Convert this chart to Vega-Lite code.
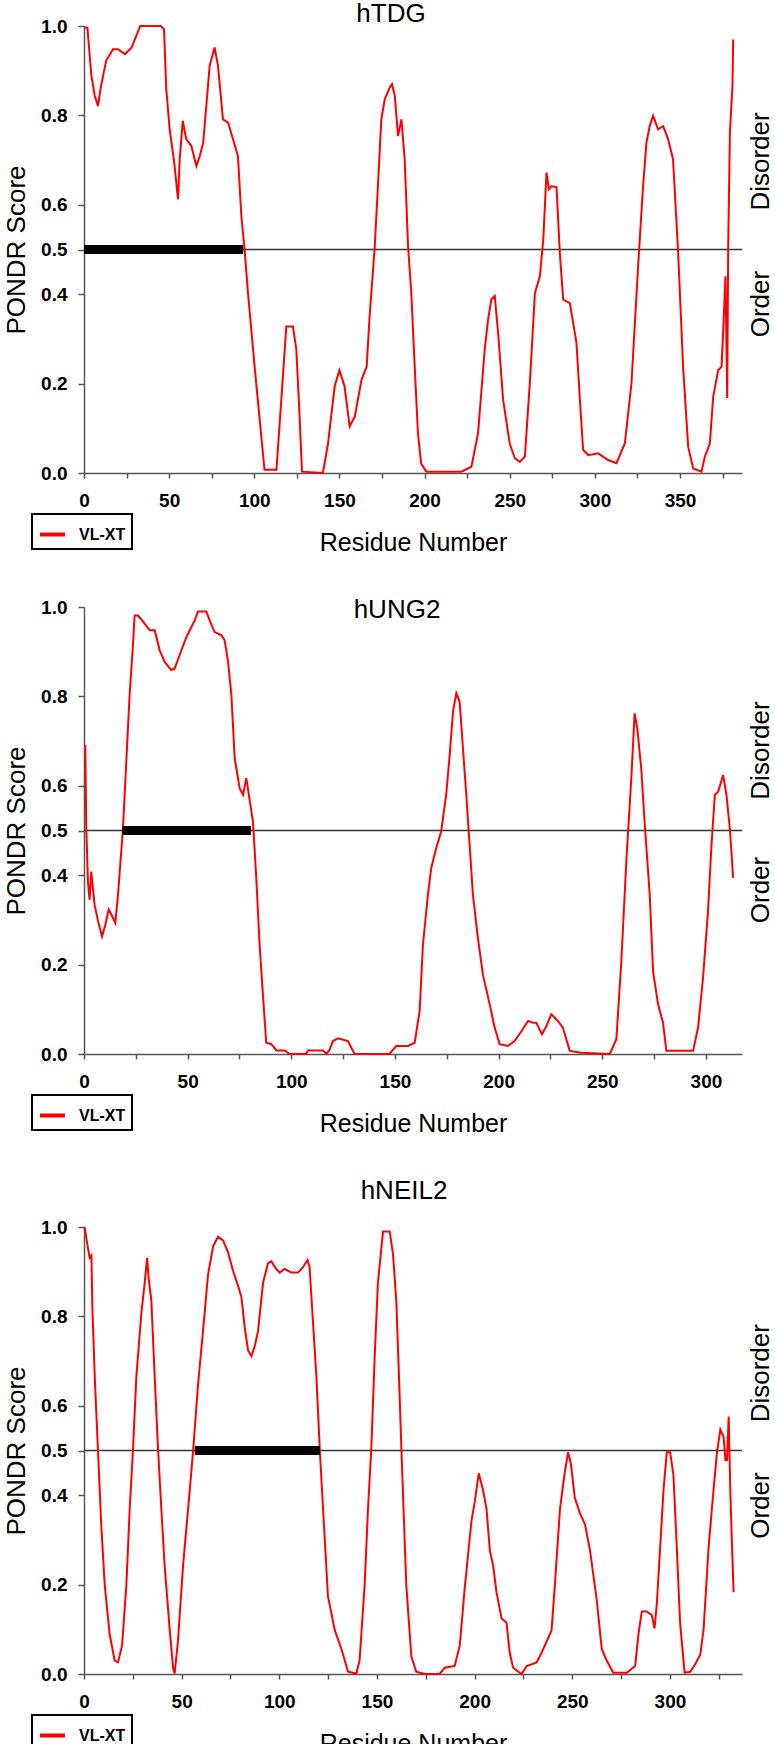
{
"$schema": "https://vega.github.io/schema/vega-lite/v6.json",
"padding": {"left": 3, "top": 1, "right": 0, "bottom": 0},
"background": "white",
"spacing": 42,
"datasets": {
"tdg": [{"r":0,"v":0.997},{"r":2,"v":0.996},{"r":4.3,"v":0.89},{"r":6.3,"v":0.844},{"r":8.2,"v":0.821},{"r":10,"v":0.866},{"r":13,"v":0.922},{"r":17,"v":0.948},{"r":20,"v":0.948},{"r":24,"v":0.937},{"r":28,"v":0.952},{"r":30,"v":0.971},{"r":33,"v":1.0},{"r":45,"v":1.0},{"r":47,"v":0.993},{"r":48.3,"v":0.859},{"r":50.3,"v":0.769},{"r":53,"v":0.694},{"r":55.2,"v":0.612},{"r":56.2,"v":0.702},{"r":58,"v":0.788},{"r":60,"v":0.747},{"r":63,"v":0.732},{"r":66,"v":0.687},{"r":68,"v":0.709},{"r":70,"v":0.739},{"r":73.8,"v":0.911},{"r":76.7,"v":0.952},{"r":78.7,"v":0.911},{"r":81.6,"v":0.791},{"r":84.6,"v":0.784},{"r":87.5,"v":0.747},{"r":90.4,"v":0.709},{"r":92.4,"v":0.575},{"r":94.3,"v":0.5},{"r":96.3,"v":0.403},{"r":100.2,"v":0.238},{"r":103,"v":0.126},{"r":106,"v":0.007},{"r":113,"v":0.007},{"r":116,"v":0.171},{"r":118.8,"v":0.328},{"r":122.7,"v":0.328},{"r":124.7,"v":0.276},{"r":126.6,"v":0.126},{"r":128,"v":0.003},{"r":140.3,"v":0.0},{"r":143.3,"v":0.066},{"r":147.2,"v":0.194},{"r":150,"v":0.23},{"r":153,"v":0.194},{"r":156,"v":0.104},{"r":159,"v":0.126},{"r":163,"v":0.209},{"r":166,"v":0.238},{"r":167.7,"v":0.35},{"r":170.7,"v":0.504},{"r":172.6,"v":0.642},{"r":174.6,"v":0.791},{"r":176.6,"v":0.836},{"r":179.5,"v":0.862},{"r":180.9,"v":0.87},{"r":182.5,"v":0.844},{"r":184.4,"v":0.754},{"r":186.4,"v":0.791},{"r":188.3,"v":0.702},{"r":190.3,"v":0.507},{"r":192.2,"v":0.403},{"r":194.2,"v":0.238},{"r":196.1,"v":0.089},{"r":198,"v":0.021},{"r":201,"v":0.003},{"r":221.6,"v":0.003},{"r":227.5,"v":0.014},{"r":231.4,"v":0.089},{"r":235.3,"v":0.276},{"r":237.3,"v":0.343},{"r":239.2,"v":0.388},{"r":241.2,"v":0.396},{"r":243.2,"v":0.313},{"r":246.1,"v":0.164},{"r":250,"v":0.066},{"r":253,"v":0.033},{"r":255.9,"v":0.025},{"r":258.9,"v":0.037},{"r":261.8,"v":0.201},{"r":264.8,"v":0.403},{"r":267.7,"v":0.44},{"r":269.7,"v":0.522},{"r":271.6,"v":0.672},{"r":273,"v":0.635},{"r":274.6,"v":0.642},{"r":277.5,"v":0.639},{"r":279.4,"v":0.493},{"r":281.4,"v":0.388},{"r":285.3,"v":0.38},{"r":289.2,"v":0.291},{"r":291.2,"v":0.164},{"r":293.1,"v":0.052},{"r":296.1,"v":0.04},{"r":301.9,"v":0.044},{"r":307.8,"v":0.029},{"r":312.7,"v":0.022},{"r":317.6,"v":0.066},{"r":321.5,"v":0.201},{"r":325.4,"v":0.463},{"r":328.3,"v":0.642},{"r":330.3,"v":0.739},{"r":332.2,"v":0.776},{"r":334.2,"v":0.799},{"r":337.1,"v":0.769},{"r":340.1,"v":0.776},{"r":343,"v":0.747},{"r":345.9,"v":0.702},{"r":348.9,"v":0.493},{"r":351.8,"v":0.238},{"r":354.8,"v":0.059},{"r":357.7,"v":0.01},{"r":362.6,"v":0.003},{"r":364.6,"v":0.037},{"r":367.5,"v":0.066},{"r":369.5,"v":0.171},{"r":372.4,"v":0.23},{"r":374.4,"v":0.238},{"r":375.3,"v":0.313},{"r":376.7,"v":0.44},{"r":377.7,"v":0.168},{"r":378.3,"v":0.507},{"r":379.3,"v":0.762},{"r":380.8,"v":0.866},{"r":381.2,"v":0.97}],
"ung": [{"r":0.6,"v":0.691},{"r":1.1,"v":0.505},{"r":1.9,"v":0.386},{"r":2.7,"v":0.345},{"r":3.5,"v":0.408},{"r":5.1,"v":0.334},{"r":6.8,"v":0.297},{"r":8.7,"v":0.263},{"r":10.3,"v":0.289},{"r":11.9,"v":0.323},{"r":13.2,"v":0.312},{"r":15.1,"v":0.293},{"r":16.4,"v":0.356},{"r":18.8,"v":0.505},{"r":20.4,"v":0.654},{"r":22,"v":0.803},{"r":23.6,"v":0.914},{"r":24.4,"v":0.981},{"r":26,"v":0.981},{"r":28.5,"v":0.967},{"r":31.7,"v":0.948},{"r":34.1,"v":0.948},{"r":36.5,"v":0.903},{"r":38.9,"v":0.877},{"r":42.1,"v":0.859},{"r":43.7,"v":0.862},{"r":46.1,"v":0.892},{"r":49.4,"v":0.933},{"r":53.4,"v":0.97},{"r":55,"v":0.99},{"r":59,"v":0.99},{"r":60.6,"v":0.97},{"r":63,"v":0.944},{"r":66.2,"v":0.937},{"r":67.8,"v":0.926},{"r":69.5,"v":0.877},{"r":71.1,"v":0.803},{"r":72.7,"v":0.661},{"r":75.1,"v":0.594},{"r":76.7,"v":0.58},{"r":78.3,"v":0.617},{"r":79.9,"v":0.568},{"r":81.5,"v":0.52},{"r":83.1,"v":0.394},{"r":84.7,"v":0.245},{"r":86.3,"v":0.133},{"r":87.9,"v":0.025},{"r":90.4,"v":0.022},{"r":92.8,"v":0.008},{"r":96.8,"v":0.008},{"r":99.2,"v":0},{"r":107.2,"v":0},{"r":108,"v":0.008},{"r":115.3,"v":0.008},{"r":116.9,"v":0},{"r":118.5,"v":0.01},{"r":120.1,"v":0.029},{"r":122.5,"v":0.035},{"r":127.3,"v":0.029},{"r":130.5,"v":0},{"r":147.4,"v":0},{"r":150.6,"v":0.018},{"r":156.3,"v":0.018},{"r":159.5,"v":0.025},{"r":161.9,"v":0.096},{"r":163.5,"v":0.245},{"r":165.9,"v":0.356},{"r":167.5,"v":0.416},{"r":169.9,"v":0.461},{"r":172.3,"v":0.498},{"r":174.7,"v":0.58},{"r":176.4,"v":0.669},{"r":178,"v":0.766},{"r":179.6,"v":0.807},{"r":181.2,"v":0.788},{"r":182.8,"v":0.684},{"r":184.4,"v":0.58},{"r":186,"v":0.468},{"r":187.6,"v":0.356},{"r":190,"v":0.26},{"r":192.4,"v":0.178},{"r":195.7,"v":0.111},{"r":198.1,"v":0.059},{"r":200.5,"v":0.022},{"r":204.5,"v":0.018},{"r":207.7,"v":0.029},{"r":211,"v":0.051},{"r":214.2,"v":0.074},{"r":216.6,"v":0.07},{"r":218.2,"v":0.07},{"r":220.9,"v":0.044},{"r":223,"v":0.062},{"r":225.4,"v":0.089},{"r":228.6,"v":0.074},{"r":231,"v":0.059},{"r":234.3,"v":0.007},{"r":239.9,"v":0.003},{"r":253.6,"v":0},{"r":256.8,"v":0.033},{"r":259.2,"v":0.208},{"r":261.6,"v":0.431},{"r":264,"v":0.617},{"r":265.6,"v":0.762},{"r":266.9,"v":0.728},{"r":268.8,"v":0.639},{"r":270.5,"v":0.513},{"r":272.9,"v":0.356},{"r":274.5,"v":0.185},{"r":276.9,"v":0.111},{"r":279.3,"v":0.07},{"r":280.9,"v":0.007},{"r":293.8,"v":0.007},{"r":296.2,"v":0.059},{"r":298.6,"v":0.17},{"r":301,"v":0.319},{"r":302.6,"v":0.461},{"r":304.3,"v":0.58},{"r":305.9,"v":0.587},{"r":308.3,"v":0.624},{"r":309.9,"v":0.58},{"r":311.5,"v":0.505},{"r":312.3,"v":0.453},{"r":313.1,"v":0.394}],
"neil": [{"r":0.3,"v":1.0},{"r":1.7,"v":0.961},{"r":2.9,"v":0.931},{"r":3.8,"v":0.936},{"r":4.3,"v":0.817},{"r":5.5,"v":0.665},{"r":7.2,"v":0.496},{"r":8.9,"v":0.327},{"r":10.6,"v":0.2},{"r":13.1,"v":0.09},{"r":15.7,"v":0.03},{"r":17.4,"v":0.026},{"r":19.5,"v":0.064},{"r":21.7,"v":0.2},{"r":23.4,"v":0.369},{"r":25.1,"v":0.504},{"r":26.8,"v":0.665},{"r":29.4,"v":0.809},{"r":31.1,"v":0.876},{"r":32.3,"v":0.931},{"r":33.1,"v":0.885},{"r":34.5,"v":0.834},{"r":36.2,"v":0.665},{"r":37.9,"v":0.504},{"r":39.6,"v":0.369},{"r":41.3,"v":0.242},{"r":43.9,"v":0.098},{"r":45.6,"v":0.014},{"r":46.4,"v":0.001},{"r":48.1,"v":0.073},{"r":50.7,"v":0.242},{"r":53.3,"v":0.369},{"r":55.8,"v":0.496},{"r":58.4,"v":0.648},{"r":60.9,"v":0.766},{"r":63.5,"v":0.893},{"r":66.1,"v":0.957},{"r":68.6,"v":0.978},{"r":71.2,"v":0.97},{"r":73.7,"v":0.944},{"r":76.3,"v":0.902},{"r":78.9,"v":0.868},{"r":80.6,"v":0.843},{"r":82.3,"v":0.775},{"r":84,"v":0.724},{"r":85.7,"v":0.711},{"r":87.4,"v":0.733},{"r":89.1,"v":0.767},{"r":91.7,"v":0.876},{"r":94.2,"v":0.919},{"r":95.9,"v":0.923},{"r":98.5,"v":0.906},{"r":100.2,"v":0.898},{"r":102.7,"v":0.906},{"r":106.2,"v":0.898},{"r":109.6,"v":0.898},{"r":112.1,"v":0.91},{"r":114.4,"v":0.926},{"r":115.5,"v":0.91},{"r":117.3,"v":0.783},{"r":119,"v":0.665},{"r":120.7,"v":0.504},{"r":122.4,"v":0.369},{"r":124.9,"v":0.174},{"r":128.4,"v":0.098},{"r":131.8,"v":0.056},{"r":135.2,"v":0.005},{"r":139.4,"v":0.001},{"r":141.1,"v":0.03},{"r":143.7,"v":0.2},{"r":145.4,"v":0.369},{"r":147.1,"v":0.504},{"r":148.8,"v":0.707},{"r":150.5,"v":0.876},{"r":153.1,"v":0.99},{"r":156.5,"v":0.99},{"r":158.2,"v":0.94},{"r":159.9,"v":0.834},{"r":160.8,"v":0.724},{"r":161.6,"v":0.623},{"r":162.5,"v":0.504},{"r":163.4,"v":0.394},{"r":165,"v":0.2},{"r":167.6,"v":0.039},{"r":170.1,"v":0.005},{"r":174.4,"v":0},{"r":182.1,"v":0},{"r":184.7,"v":0.014},{"r":189.8,"v":0.018},{"r":192.4,"v":0.064},{"r":194.9,"v":0.191},{"r":198.4,"v":0.343},{"r":200.1,"v":0.386},{"r":202.1,"v":0.449},{"r":204.3,"v":0.411},{"r":206.1,"v":0.369},{"r":207.8,"v":0.276},{"r":209.5,"v":0.242},{"r":211.2,"v":0.183},{"r":213.8,"v":0.124},{"r":216.3,"v":0.115},{"r":218,"v":0.047},{"r":219.7,"v":0.014},{"r":224,"v":0},{"r":226.6,"v":0.018},{"r":231.7,"v":0.026},{"r":234.2,"v":0.047},{"r":237.7,"v":0.081},{"r":239.4,"v":0.098},{"r":241.1,"v":0.2},{"r":243.7,"v":0.369},{"r":246.2,"v":0.453},{"r":247.9,"v":0.496},{"r":249.3,"v":0.47},{"r":251.3,"v":0.394},{"r":253.9,"v":0.36},{"r":256.5,"v":0.335},{"r":259.1,"v":0.276},{"r":262.5,"v":0.166},{"r":265.1,"v":0.056},{"r":267.6,"v":0.03},{"r":271,"v":0.003},{"r":277.9,"v":0.003},{"r":282.2,"v":0.018},{"r":283.9,"v":0.09},{"r":285.6,"v":0.14},{"r":288.1,"v":0.14},{"r":290.7,"v":0.132},{"r":292.1,"v":0.102},{"r":293.3,"v":0.157},{"r":295,"v":0.284},{"r":296.7,"v":0.411},{"r":298.4,"v":0.496},{"r":300.1,"v":0.496},{"r":301.8,"v":0.445},{"r":303.5,"v":0.284},{"r":305.2,"v":0.115},{"r":307.5,"v":0.003},{"r":310.4,"v":0.005},{"r":312.9,"v":0.022},{"r":315.5,"v":0.043},{"r":317.2,"v":0.098},{"r":319.8,"v":0.284},{"r":322.3,"v":0.411},{"r":324.1,"v":0.496},{"r":325.8,"v":0.547},{"r":327.5,"v":0.53},{"r":328.4,"v":0.479},{"r":329.2,"v":0.479},{"r":330.1,"v":0.576},{"r":330.9,"v":0.411},{"r":331.8,"v":0.284},{"r":332.6,"v":0.183}],
"bars": [{"protein":"hTDG","start":0,"end":93.5},{"protein":"hUNG2","start":18.5,"end":80.5},{"protein":"hNEIL2","start":56.7,"end":120.8}]
},
"vconcat": [
{
"width": 658, "height": 447,
"title": {"text": "hTDG", "offset": -10, "dx": -22, "frame": "group"},
"layer": [
{"data": {"values": [{}]}, "mark": {"type": "rule", "color": "#333333", "strokeWidth": 1.5},
 "encoding": {"y": {"datum": 0.5, "type": "quantitative", "scale": {"domain": [0, 1], "nice": false},
  "axis": {"orient": "right", "values": [0.379, 0.698], "labelExpr": "datum.value > 0.5 ? 'Disorder' : 'Order'", "labelAngle": -90, "labelAlign": "center", "labelBaseline": "top", "labelFontSize": 26, "labelFontWeight": "normal", "labelPadding": 5, "ticks": false, "tickSize": 0, "domain": false, "title": null, "labelOverlap": false}}}},
{"data": {"name": "tdg"}, "mark": {"type": "line", "strokeWidth": 2},
 "encoding": {
  "x": {"field": "r", "type": "quantitative", "scale": {"domain": [0, 386.4], "nice": false, "zero": false},
   "axis": {"values": [0,25,50,75,100,125,150,175,200,225,250,275,300,325,350,375], "labelExpr": "datum.value % 50 == 0 ? datum.label : ''", "title": "Residue Number"}},
  "y": {"field": "v", "type": "quantitative", "scale": {"domain": [0, 1], "nice": false},
   "axis": {"title": "PONDR Score", "values": [0, 0.2, 0.4, 0.5, 0.6, 0.8, 1.0], "format": ".1f"}},
  "color": {"datum": "VL-XT", "type": "nominal", "scale": {"range": ["#ff0000"]},
   "legend": {"title": null, "orient": "none", "legendX": -52, "legendY": 488}}}},
{"data": {"name": "bars"}, "transform": [{"filter": "datum.protein == 'hTDG'"}], "mark": {"type": "rule", "color": "#000000", "strokeWidth": 9},
 "encoding": {"x": {"field": "start", "type": "quantitative"}, "x2": {"field": "end"}, "y": {"datum": 0.5, "type": "quantitative", "axis": null}}}
],
"resolve": {"axis": {"y": "independent"}}
},
{
"width": 658, "height": 447,
"title": {"text": "hUNG2", "offset": -25, "dx": -16, "frame": "group"},
"layer": [
{"data": {"values": [{}]}, "mark": {"type": "rule", "color": "#333333", "strokeWidth": 1.5},
 "encoding": {"y": {"datum": 0.5, "type": "quantitative", "scale": {"domain": [0, 1], "nice": false},
  "axis": {"orient": "right", "values": [0.368, 0.68], "labelExpr": "datum.value > 0.5 ? 'Disorder' : 'Order'", "labelAngle": -90, "labelAlign": "center", "labelBaseline": "top", "labelFontSize": 26, "labelFontWeight": "normal", "labelPadding": 5, "ticks": false, "tickSize": 0, "domain": false, "title": null, "labelOverlap": false}}}},
{"data": {"name": "ung"}, "mark": {"type": "line", "strokeWidth": 2},
 "encoding": {
  "x": {"field": "r", "type": "quantitative", "scale": {"domain": [0, 317.4], "nice": false, "zero": false},
   "axis": {"values": [0,25,50,75,100,125,150,175,200,225,250,275,300], "labelExpr": "datum.value % 50 == 0 ? datum.label : ''", "title": "Residue Number"}},
  "y": {"field": "v", "type": "quantitative", "scale": {"domain": [0, 1], "nice": false},
   "axis": {"title": "PONDR Score", "values": [0, 0.2, 0.4, 0.5, 0.6, 0.8, 1.0], "format": ".1f"}},
  "color": {"datum": "VL-XT", "type": "nominal", "scale": {"range": ["#ff0000"]},
   "legend": {"title": null, "orient": "none", "legendX": -52, "legendY": 488}}}},
{"data": {"name": "bars"}, "transform": [{"filter": "datum.protein == 'hUNG2'"}], "mark": {"type": "rule", "color": "#000000", "strokeWidth": 9},
 "encoding": {"x": {"field": "start", "type": "quantitative"}, "x2": {"field": "end"}, "y": {"datum": 0.5, "type": "quantitative", "axis": null}}}
],
"resolve": {"axis": {"y": "independent"}}
},
{
"width": 658, "height": 447,
"title": {"text": "hNEIL2", "offset": 14, "dx": -9, "frame": "group"},
"layer": [
{"data": {"values": [{}]}, "mark": {"type": "rule", "color": "#333333", "strokeWidth": 1.5},
 "encoding": {"y": {"datum": 0.5, "type": "quantitative", "scale": {"domain": [0, 1], "nice": false},
  "axis": {"orient": "right", "values": [0.378, 0.674], "labelExpr": "datum.value > 0.5 ? 'Disorder' : 'Order'", "labelAngle": -90, "labelAlign": "center", "labelBaseline": "top", "labelFontSize": 26, "labelFontWeight": "normal", "labelPadding": 5, "ticks": false, "tickSize": 0, "domain": false, "title": null, "labelOverlap": false}}}},
{"data": {"name": "neil"}, "mark": {"type": "line", "strokeWidth": 2},
 "encoding": {
  "x": {"field": "r", "type": "quantitative", "scale": {"domain": [0, 336.9], "nice": false, "zero": false},
   "axis": {"values": [0,25,50,75,100,125,150,175,200,225,250,275,300,325], "labelExpr": "datum.value % 50 == 0 ? datum.label : ''", "title": "Residue Number"}},
  "y": {"field": "v", "type": "quantitative", "scale": {"domain": [0, 1], "nice": false},
   "axis": {"title": "PONDR Score", "values": [0, 0.2, 0.4, 0.5, 0.6, 0.8, 1.0], "format": ".1f"}},
  "color": {"datum": "VL-XT", "type": "nominal", "scale": {"range": ["#ff0000"]},
   "legend": {"title": null, "orient": "none", "legendX": -52, "legendY": 488}}}},
{"data": {"name": "bars"}, "transform": [{"filter": "datum.protein == 'hNEIL2'"}], "mark": {"type": "rule", "color": "#000000", "strokeWidth": 9},
 "encoding": {"x": {"field": "start", "type": "quantitative"}, "x2": {"field": "end"}, "y": {"datum": 0.5, "type": "quantitative", "axis": null}}}
],
"resolve": {"axis": {"y": "independent"}}
}
],
"resolve": {"scale": {"x": "independent", "y": "independent", "color": "independent"}, "legend": {"color": "independent"}, "axis": {"x": "independent", "y": "independent"}},
"config": {
"font": "Liberation Sans",
"view": {"stroke": null},
"axis": {"grid": false, "labelFont": "Liberation Sans", "labelColor": "#000000", "labelFontWeight": "bold", "labelFontSize": 19, "titleFont": "Liberation Sans", "titleColor": "#000000", "titleFontWeight": "normal", "domainColor": "#555555", "domainWidth": 1.5, "tickColor": "#555555", "tickWidth": 1.5},
"axisY": {"tickSize": 6, "labelPadding": 11, "titleFontSize": 26, "titlePadding": 11},
"axisX": {"tickSize": 5, "labelPadding": 13, "titleFontSize": 25, "titlePadding": 20, "labelFlush": false, "labelOverlap": false},
"legend": {"strokeColor": "#000000", "strokeWidth": 2, "padding": 6, "fillColor": "#ffffff", "symbolType": "stroke", "symbolStrokeWidth": 4, "symbolSize": 625, "labelFont": "Liberation Sans", "labelFontWeight": "bold", "labelFontSize": 16, "labelOffset": 12, "labelColor": "#000000", "cornerRadius": 0},
"title": {"fontSize": 26, "fontWeight": "normal", "font": "Liberation Sans", "color": "#000000", "anchor": "middle"}
}
}
